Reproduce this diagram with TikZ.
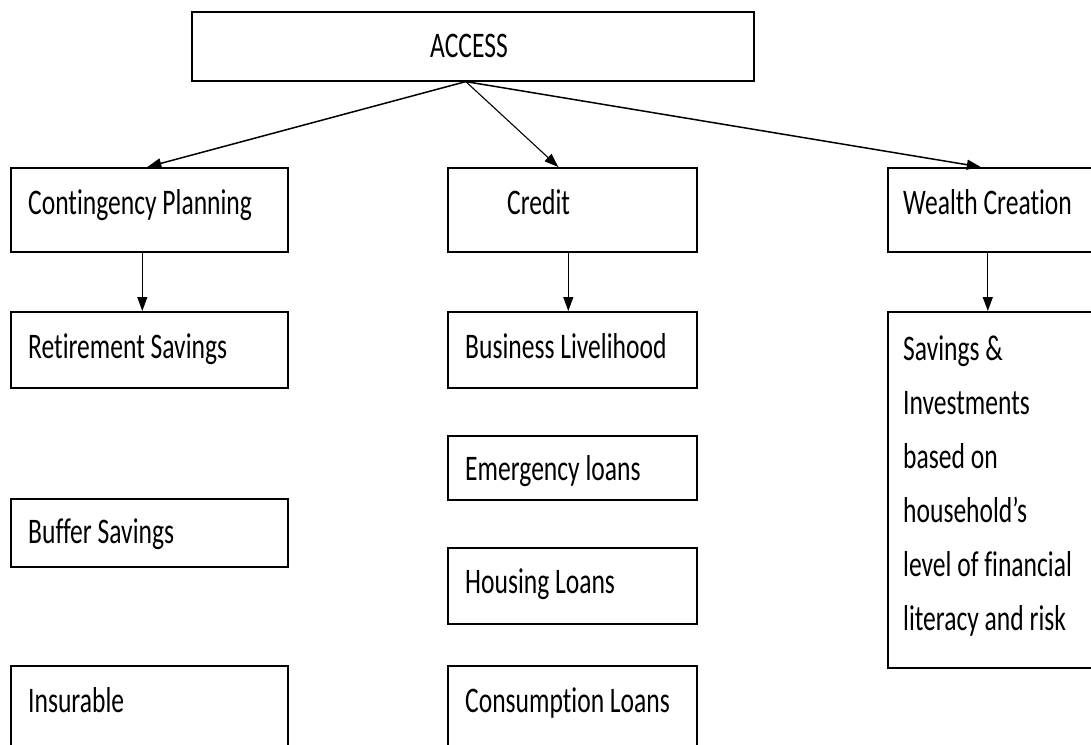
\documentclass[tikz,border=0pt]{standalone}
\usepackage{fontspec}
\setmainfont{Carlito}[FakeStretch=0.71, Ligatures=NoCommon]
\usetikzlibrary{arrows.meta}

\tikzset{
  box/.style={draw, line width=1.6pt, anchor=north west, inner sep=0pt},
  lbl/.style={anchor=base west, inner sep=0pt, font=\fontsize{36}{54}\selectfont},
  arr/.style={-{Triangle[length=14pt,width=10pt]}, line width=1.5pt},
}

\begin{document}
\begin{tikzpicture}[x=1pt, y=-1pt]
        \useasboundingbox (0,0) rectangle (1091,744);
        \clip (0,0) rectangle (1091,744);

        % boxes
        \node (acc) [box, minimum width=562pt, minimum height=69pt] at (191,11) {};
        \node (cp) [box, minimum width=277pt, minimum height=84pt] at (10,167) {};
        \node (cr) [box, minimum width=249pt, minimum height=84pt] at (447,167) {};
        \node (wc) [box, minimum width=220pt, minimum height=84pt] at (887,167) {};
        \node (rs) [box, minimum width=277pt, minimum height=76pt] at (10,311) {};
        \node (bl) [box, minimum width=249pt, minimum height=76pt] at (447,311) {};
        \node (si) [box, minimum width=220pt, minimum height=356pt] at (887,311) {};
        \node (el) [box, minimum width=249pt, minimum height=64pt] at (447,435) {};
        \node (bs) [box, minimum width=277pt, minimum height=68pt] at (10,498) {};
        \node (hl) [box, minimum width=249pt, minimum height=76pt] at (447,547) {};
        \node (in) [box, minimum width=277pt, minimum height=100pt] at (10,665) {};
        \node (cl) [box, minimum width=249pt, minimum height=100pt] at (447,665) {};

        % labels
        \node (accT) [lbl] at (430,57) {ACCESS};
        \node (cpT) [lbl] at (28,214) {Contingency Planning};
        \node (crT) [lbl] at (507,214) {Credit};
        \node (wcT) [lbl] at (903,214) {Wealth Creation};
        \node (rsT) [lbl] at (28,358) {Retirement Savings};
        \node (blT) [lbl] at (465,358) {Business Livelihood};
        \node (siT) [lbl, align=left] at (903,630) {Savings \&\\Investments\\based on\\household’s\\level of financial\\literacy and risk};
        \node (elT) [lbl] at (465,480) {Emergency loans};
        \node (bsT) [lbl] at (28,543) {Buffer Savings};
        \node (hlT) [lbl] at (465,593) {Housing Loans};
        \node (inT) [lbl] at (28,712) {Insurable};
        \node (clT) [lbl] at (465,712) {Consumption Loans};

        % connectors
        \draw[arr] ([xshift=-7pt]acc.south) -- ([xshift=-2pt]cp.north);
        \draw[arr, line width=1.1pt] ([xshift=-7pt]acc.south) -- ([xshift=-14pt]cr.north);
        \draw[arr] ([xshift=-7pt]acc.south) -- ([xshift=-17pt]wc.north);
        \draw[arr, line width=1.1pt] ([xshift=-7pt]cp.south) -- ([xshift=-7pt]rs.north);
        \draw[arr, line width=1.1pt] ([xshift=-4pt]cr.south) -- ([xshift=-4pt]bl.north);
        \draw[arr, line width=1.1pt] ([xshift=-10pt]wc.south) -- ([xshift=-10pt]si.north);

\end{tikzpicture}
\end{document}
